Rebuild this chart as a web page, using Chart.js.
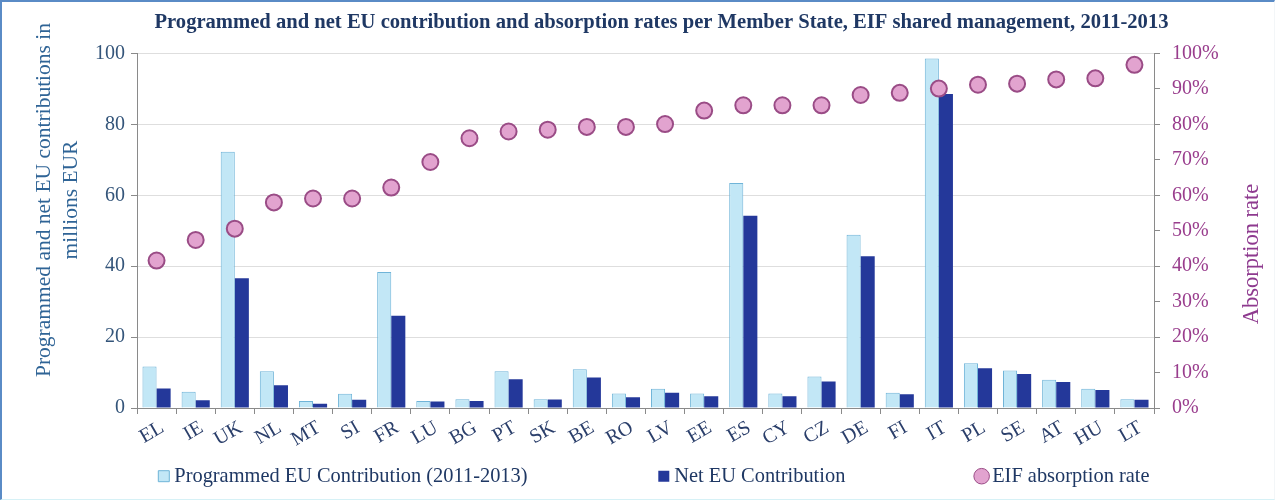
<!DOCTYPE html>
<html>
<head>
<meta charset="utf-8">
<script src="https://cdn.jsdelivr.net/npm/chart.js@4.4.1/dist/chart.umd.min.js"></script>
<style>
  html, body { margin: 0; padding: 0; background: #ffffff; }
  #wrap { position: relative; width: 1275px; height: 500px; background: #ffffff; }
  #frame { position: absolute; left: 0; top: 0; width: 1275px; height: 500px; box-sizing: border-box;
           border-left: 2px solid #5a8bc6; border-top: 2px solid #5a8bc6; border-bottom: 1px solid #d6f1f6; border-right: 1px solid #f3f6f8; }
  canvas { position: absolute; left: 0; top: 0; }
</style>
</head>
<body>
<div id="wrap">
  <div id="frame"></div>
  <canvas id="c" width="1275" height="500"></canvas>
</div>
<script>
const chartTitle = 'Programmed and net EU contribution and absorption rates per Member State, EIF shared management, 2011-2013';
const categories = ['EL','IE','UK','NL','MT','SI','FR','LU','BG','PT','SK','BE','RO','LV','EE','ES','CY','CZ','DE','FI','IT','PL','SE','AT','HU','LT'];
const programmed = [11.7,4.6,72.3,10.4,2.0,4.0,38.4,2.0,2.5,10.4,2.5,10.9,4.1,5.4,4.1,63.5,4.1,8.9,48.9,4.3,98.6,12.6,10.6,8.0,5.4,2.5];
const netContribution = [5.5,2.2,36.6,6.4,1.2,2.3,26.0,1.8,2.0,8.1,2.4,8.6,3.0,4.3,3.3,54.2,3.3,7.5,42.8,3.9,88.6,11.2,9.6,7.3,5.1,2.3];
const absorptionRate = [41.6,47.4,50.6,58.0,59.1,59.1,62.2,69.4,76.1,78.0,78.5,79.3,79.3,80.1,83.9,85.4,85.4,85.4,88.3,88.9,90.1,91.2,91.5,92.7,93.0,96.8];
const seriesNames = ['Programmed EU Contribution (2011-2013)', 'Net EU Contribution', 'EIF absorption rate'];
const leftAxisTitle = ['Programmed and net EU contributions in', 'millions EUR'];
const rightAxisTitle = 'Absorption rate';

const SERIF = '"Liberation Serif", "Times New Roman", serif';
const C_PROG = '#c2e7f6', C_PROG_B = '#6fb4d8';
const C_NET = '#24389a';
const C_PT = '#e2a3cf', C_PT_B = '#9a4c86';

const axisTitles = {
  id: 'axisTitles',
  afterDraw(chart) {
    const ctx = chart.ctx;
    ctx.save();
    ctx.textAlign = 'center';
    ctx.textBaseline = 'middle';
    ctx.font = '21.5px ' + SERIF;
    ctx.fillStyle = '#2f6496';
    const lx = [44, 71];
    leftAxisTitle.forEach((t, i) => {
      ctx.save();
      ctx.translate(lx[i], 200);
      ctx.rotate(-Math.PI / 2);
      ctx.fillText(t, 0, 0);
      ctx.restore();
    });
    ctx.font = '22.5px ' + SERIF;
    ctx.fillStyle = '#8e3a8f';
    ctx.translate(1252, 254);
    ctx.rotate(-Math.PI / 2);
    ctx.fillText(rightAxisTitle, 0, 0);
    ctx.restore();
  }
};

const LEGEND_X = 163.5, LEGEND_Y = 466, TITLE_SHIFT = 16;
const boxPlace = {
  id: 'boxPlace',
  beforeDraw(chart) {
    const lg = chart.legend;
    if (lg) {
      const pad = lg.options.labels.padding;
      lg.left = LEGEND_X - pad;
      lg.right = 5000;
      lg.top = LEGEND_Y - pad;
    }
    const tb = chart.titleBlock;
    if (tb && !tb._shifted) {
      tb.left += TITLE_SHIFT;
      tb.right += TITLE_SHIFT;
      tb._shifted = true;
    }
  }
};

new Chart(document.getElementById('c'), {
  type: 'bar',
  data: {
    labels: categories,
    datasets: [
      { label: seriesNames[0], data: programmed, backgroundColor: C_PROG, borderColor: C_PROG_B, borderWidth: 1,
        yAxisID: 'y', order: 1, barPercentage: 1.0, categoryPercentage: 0.72 },
      { label: seriesNames[1], data: netContribution, backgroundColor: C_NET, borderColor: C_NET, borderWidth: 0,
        yAxisID: 'y', order: 1, barPercentage: 1.0, categoryPercentage: 0.72 },
      { type: 'line', label: seriesNames[2], data: absorptionRate, yAxisID: 'y1', order: 0,
        showLine: false, pointStyle: 'circle', pointRadius: 8, pointHoverRadius: 8,
        pointBackgroundColor: C_PT, pointBorderColor: C_PT_B, pointBorderWidth: 2,
        backgroundColor: C_PT, borderColor: C_PT_B }
    ]
  },
  options: {
    responsive: false,
    animation: false,
    devicePixelRatio: 1,
    layout: { padding: 0 },
    plugins: {
      tooltip: { enabled: false },
      title: {
        display: true, text: chartTitle, color: '#1f3864', fullSize: false,
        font: { family: SERIF, size: 20.6, weight: 'bold', lineHeight: 1.2 },
        padding: { top: 10, bottom: 18.8 }
      },
      legend: {
        display: true, position: 'bottom', align: 'start', maxHeight: 40,
        labels: {
          padding: 136, usePointStyle: true, boxWidth: 0.6, boxHeight: 11,
          color: '#1f3864', font: { family: SERIF, size: 20.4 },
          generateLabels: () => [
            { text: seriesNames[0], fillStyle: C_PROG, strokeStyle: C_PROG_B, lineWidth: 1, pointStyle: 'rect', hidden: false, datasetIndex: 0, fontColor: '#1f3864' },
            { text: seriesNames[1], fillStyle: C_NET, strokeStyle: C_NET, lineWidth: 0, pointStyle: 'rect', hidden: false, datasetIndex: 1, fontColor: '#1f3864' },
            { text: seriesNames[2], fillStyle: C_PT, strokeStyle: C_PT_B, lineWidth: 1, pointStyle: 'circle', hidden: false, datasetIndex: 2, fontColor: '#1f3864' }
          ]
        }
      }
    },
    scales: {
      x: {
        type: 'category', offset: true,
        grid: { offset: true, drawOnChartArea: false, drawTicks: true, tickLength: 6, tickColor: '#8a8a8a' },
        border: { color: '#8a8a8a', width: 1 },
        ticks: { color: '#2b3f6b', font: { family: SERIF, size: 20 }, minRotation: 30, maxRotation: 30, autoSkip: false, labelOffset: 6, padding: 2 },
        afterFit: (s) => { s.height = 52; }
      },
      y: {
        position: 'left', min: 0, max: 100,
        grid: { color: '#dedede', lineWidth: 1, tickLength: 6, tickColor: '#8a8a8a' },
        border: { color: '#8a8a8a', width: 1 },
        ticks: { stepSize: 20, color: '#34557a', font: { family: SERIF, size: 20 }, padding: 6 },
        afterFit: (s) => { s.width = 137; }
      },
      y1: {
        position: 'right', min: 0, max: 100,
        grid: { drawOnChartArea: false, tickLength: 6, tickColor: '#8a8a8a' },
        border: { color: '#8a8a8a', width: 1 },
        ticks: { stepSize: 10, color: '#993d8d', font: { family: SERIF, size: 20 }, padding: 12, callback: (v) => v + '%' },
        afterFit: (s) => { s.width = 121; }
      }
    }
  },
  plugins: [axisTitles, boxPlace]
});
</script>
</body>
</html>
